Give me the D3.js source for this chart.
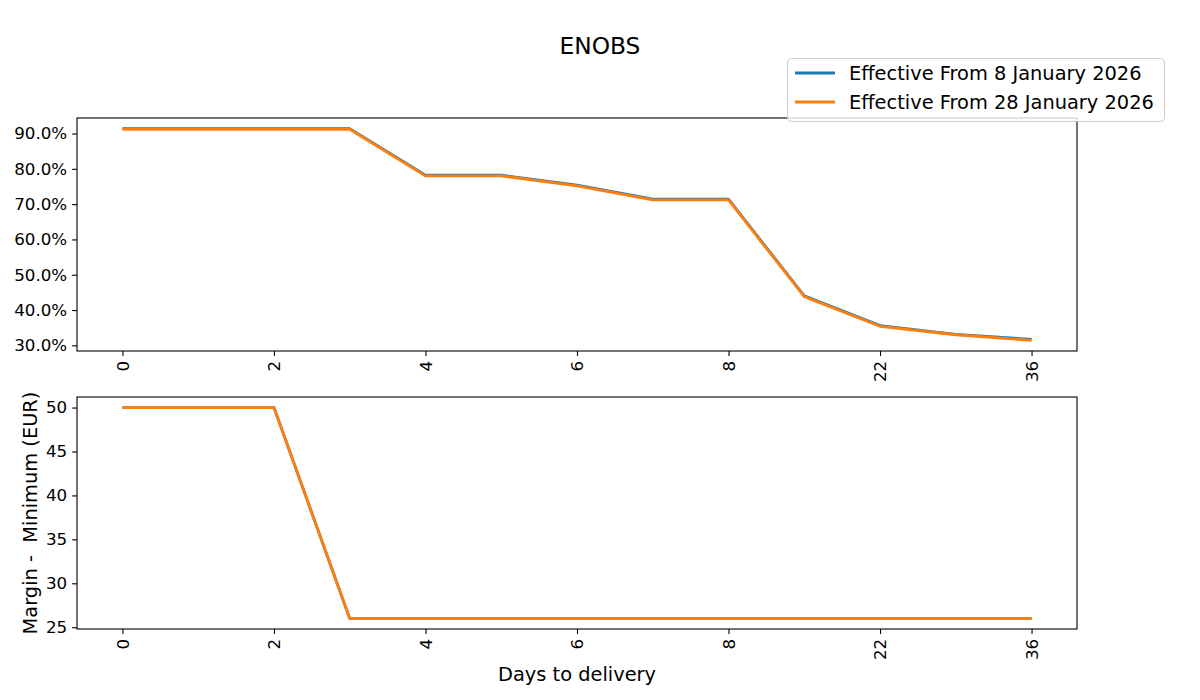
<!DOCTYPE html>
<html>
<head>
<meta charset="utf-8">
<script src="https://cdn.jsdelivr.net/npm/d3@7"></script>
<style>
body { margin: 0; background: #fff; }
svg text { font-family: "DejaVu Sans", sans-serif; fill: #000; }
</style>
</head>
<body>
<svg id="view" width="1200" height="700"></svg>
<script>
// Data
var days = ['0','1','2','3','4','5','6','7','8','15','22','29','36'];
var tickDays = ['0','2','4','6','8','22','36'];
var seriesNames = ['Effective From 8 January 2026', 'Effective From 28 January 2026'];
var colors = ['#1f77b4', '#ff7f0e'];

var enobsJan8  = [91.4,91.4,91.4,91.4,78.2,78.2,75.4,71.4,71.4,44.0,35.6,33.1,31.7];
var enobsJan28 = [91.2,91.2,91.2,91.2,78.0,78.0,75.2,71.2,71.2,43.8,35.4,33.0,31.4];
var marginJan8  = [50,50,50,26,26,26,26,26,26,26,26,26,26];
var marginJan28 = [50,50,50,26,26,26,26,26,26,26,26,26,26];

var pctTicks = [30,40,50,60,70,80,90];
var eurTicks = [25,30,35,40,45,50];

var svg = d3.select('svg#view');
var left = 77, right = 1077;

// x: categorical positions with matplotlib-style 5% padding
var x = d3.scaleLinear()
	.domain([-0.6, days.length - 1 + 0.6])
	.range([left, right]);

function padded(arrs) {
	var lo = d3.min(arrs, function(a) { return d3.min(a); });
	var hi = d3.max(arrs, function(a) { return d3.max(a); });
	var m = (hi - lo) * 0.05;
	return [lo - m, hi + m];
}

function drawPanel(top, bottom, seriesList, yTicks, yFmt, yLabel) {
	var g = svg.append('g');
	var y = d3.scaleLinear().domain(padded(seriesList)).range([bottom, top]);

	var line = d3.line()
		.x(function(d, i) { return x(i); })
		.y(function(d) { return y(d); });

	seriesList.forEach(function(s, k) {
		g.append('path')
			.datum(s)
			.attr('d', line)
			.attr('fill', 'none')
			.attr('stroke', colors[k])
			.attr('stroke-width', 2.8)
			.attr('stroke-linejoin', 'round');
	});

	// y axis
	var yAxis = d3.axisLeft(y).tickValues(yTicks).tickFormat(yFmt).tickSize(4.9).tickPadding(4.9);
	var ya = g.append('g').attr('transform', 'translate(' + left + ',0)').call(yAxis);
	ya.select('.domain').remove();
	ya.selectAll('text').style('font-size', '16.7px').attr('fill', '#000');
	ya.selectAll('line').attr('stroke', '#000').attr('stroke-width', 1.1);

	// x axis, rotated labels
	var xAxis = d3.axisBottom(x)
		.tickValues(tickDays.map(function(d) { return days.indexOf(d); }))
		.tickFormat(function(i) { return days[i]; })
		.tickSize(4.9);
	var xa = g.append('g').attr('transform', 'translate(0,' + bottom + ')').call(xAxis);
	xa.select('.domain').remove();
	xa.selectAll('line').attr('stroke', '#000').attr('stroke-width', 1.1);
	xa.selectAll('text')
		.style('font-size', '16.7px')
		.attr('fill', '#000')
		.attr('text-anchor', 'end')
		.attr('transform', 'translate(0,9.8) rotate(-90)')
		.attr('x', 0).attr('y', 0).attr('dy', '0.35em');

	// frame
	g.append('rect')
		.attr('x', left).attr('y', top)
		.attr('width', right - left).attr('height', bottom - top)
		.attr('fill', 'none').attr('stroke', '#000').attr('stroke-width', 1.1);

	if (yLabel) {
		g.append('text')
			.attr('transform', 'translate(37,' + (top + bottom) / 2 + ') rotate(-90)')
			.attr('text-anchor', 'middle')
			.style('font-size', '19.4px')
			.style('white-space', 'pre')
			.text(yLabel);
	}
}

drawPanel(118, 351, [enobsJan8, enobsJan28], pctTicks, function(d) { return d.toFixed(1) + '%'; }, null);
drawPanel(397, 629, [marginJan8, marginJan28], eurTicks, d3.format('d'), 'Margin -  Minimum (EUR)');

// x label
svg.append('text')
	.attr('x', (left + right) / 2).attr('y', 681)
	.attr('text-anchor', 'middle')
	.style('font-size', '19.4px')
	.text('Days to delivery');

// title
svg.append('text')
	.attr('x', 600).attr('y', 54)
	.attr('text-anchor', 'middle')
	.style('font-size', '23.3px')
	.text('ENOBS');

// legend
var lg = svg.append('g').attr('transform', 'translate(787,58)');
lg.append('rect')
	.attr('x', 0.5).attr('y', 0.5).attr('width', 377).attr('height', 63)
	.attr('rx', 4).attr('ry', 4)
	.attr('fill', 'rgba(255,255,255,0.8)').attr('stroke', '#cccccc').attr('stroke-width', 1);
seriesNames.forEach(function(name, k) {
	var yy = 15 + k * 29;
	lg.append('line')
		.attr('x1', 8).attr('x2', 48).attr('y1', yy).attr('y2', yy)
		.attr('stroke', colors[k]).attr('stroke-width', 2.8);
	lg.append('text')
		.attr('x', 62).attr('y', yy).attr('dy', '0.35em')
		.style('font-size', '19.4px')
		.text(name);
});
</script>
</body>
</html>
